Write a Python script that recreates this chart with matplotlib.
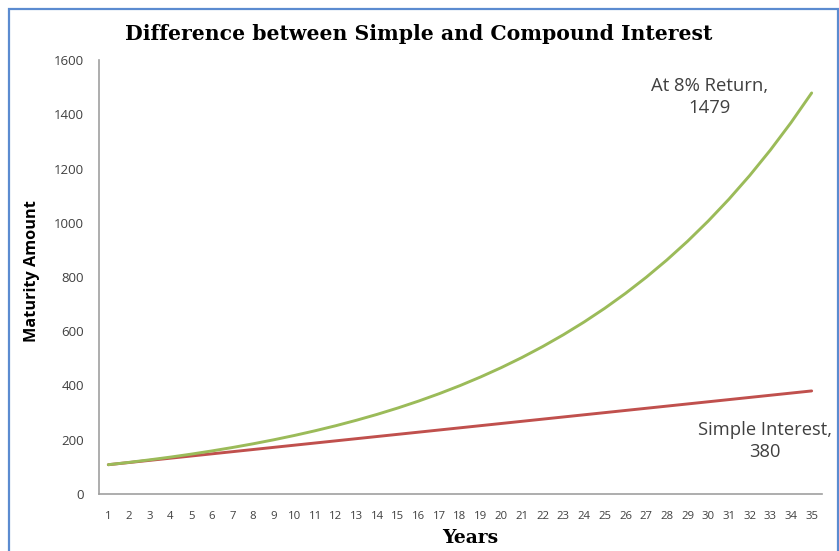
import matplotlib
matplotlib.use("Agg")
import matplotlib.pyplot as plt
from matplotlib.patches import Rectangle

years = list(range(1, 36))
compound = [108, 116.6, 126.0, 136.0, 146.9, 158.7, 171.4, 185.1, 199.9, 215.9,
            233.2, 251.8, 272.0, 293.7, 317.2, 342.6, 370.0, 399.6, 431.6, 466.1,
            503.4, 543.7, 587.2, 634.1, 684.8, 739.6, 798.8, 862.7, 931.7, 1006.3,
            1086.8, 1173.7, 1267.6, 1369.0, 1478.53]
simple = [108, 116, 124, 132, 140, 148, 156, 164, 172, 180,
          188, 196, 204, 212, 220, 228, 236, 244, 252, 260,
          268, 276, 284, 292, 300, 308, 316, 324, 332, 340,
          348, 356, 364, 372, 380]
y_ticks = [0, 200, 400, 600, 800, 1000, 1200, 1400, 1600]

W, H = 839, 551
fig = plt.figure(figsize=(W / 100, H / 100), dpi=100)
ax = fig.add_axes([99 / W, 1 - 494 / H, (822 - 99) / W, (494 - 60) / H])

ax.plot(years, simple, color="#C0504D", lw=2.1, solid_capstyle="round", zorder=3)
ax.plot(years, compound, color="#9BBB59", lw=2.1, solid_capstyle="round", zorder=4)

ax.set_xlim(0.55, 35.5)
ax.set_ylim(0, 1600)
ax.set_xticks(years)
ax.set_xticklabels([str(y) for y in years])
ax.set_yticks(y_ticks)
ax.set_yticklabels([str(v) for v in y_ticks])

sans = ["Open Sans", "DejaVu Sans"]
for lab in ax.get_xticklabels():
    lab.set_fontfamily(sans)
    lab.set_fontsize(8.2)
    lab.set_color("#404040")
for lab in ax.get_yticklabels():
    lab.set_fontfamily(sans)
    lab.set_fontsize(9.5)
    lab.set_color("#404040")
ax.tick_params(axis="both", length=0)
ax.tick_params(axis="x", pad=12)
ax.tick_params(axis="y", pad=11)

for s in ["top", "right"]:
    ax.spines[s].set_visible(False)
for s in ["left", "bottom"]:
    ax.spines[s].set_color("#A0A0A0")
    ax.spines[s].set_linewidth(1.2)

serif = ["DejaVu Serif", "Liberation Serif"]
fig.text(419 / W, 1 - 34 / H, "Difference between Simple and Compound Interest",
         ha="center", va="center", fontsize=14.7, fontweight="bold",
         family=serif, color="black")
fig.text(470 / W, 1 - 538 / H, "Years", ha="center", va="center", fontsize=13.5,
         fontweight="bold", family=serif, color="black")
fig.text(32 / W, 1 - 271 / H, "Maturity Amount", ha="center", va="center",
         rotation=90, fontsize=11.7, fontweight="bold", family=sans, color="black")

ax.annotate("At 8% Return,\n" + str(int(compound[-1] + 0.5)), xy=(710 / W, 1 - 97 / H),
            xycoords="figure fraction", ha="center", va="center", fontsize=13.3,
            family=sans, color="#404040", linespacing=1.25)
ax.annotate("Simple Interest,\n" + str(simple[-1]), xy=(765 / W, 1 - 441 / H),
            xycoords="figure fraction", ha="center", va="center", fontsize=13.2,
            family=sans, color="#404040", linespacing=1.25)

border = Rectangle((8.5 / W, -0.05), (837.5 - 8.5) / W, 1.05 - 9.5 / H,
                   transform=fig.transFigure, fill=False, edgecolor="#5B8BD0",
                   lw=1.6, zorder=10)
fig.patches.append(border)

fig.savefig("out.png", dpi=100)
